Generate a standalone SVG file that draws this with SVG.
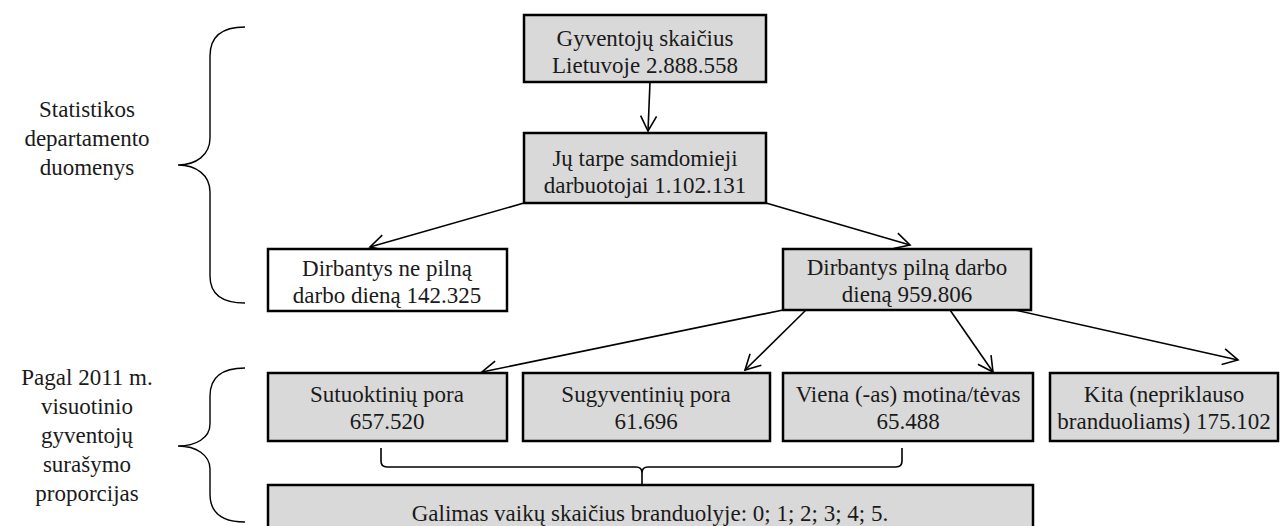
<svg xmlns="http://www.w3.org/2000/svg" width="1280" height="526" viewBox="0 0 1280 526">
<style>
.box{fill:#d9d9d9;stroke:#000;stroke-width:2.5}
.wbox{fill:#fff;stroke:#000;stroke-width:2.5}
.t{font-family:"Liberation Serif","Times New Roman",serif;font-size:23px;fill:#1a1a1a;text-anchor:middle}
.c{fill:none;stroke:#000;stroke-width:1.6}
.br{fill:none;stroke:#000;stroke-width:1.4}
</style>
<defs>
<marker id="arr" viewBox="-17 -10 19 20" refX="0" refY="0" markerWidth="19" markerHeight="20" markerUnits="userSpaceOnUse" orient="auto">
<path d="M-15,-8 L0,0 L-15,8" fill="none" stroke="#000" stroke-width="1.6"/>
</marker>
</defs>
<rect width="1280" height="526" fill="#fff"/>

<g id="connectors">
<path class="c" d="M650,82 L648,131" marker-end="url(#arr)"/>
<path class="c" d="M524,203 L370,247" marker-end="url(#arr)"/>
<path class="c" d="M766,203 L910,245" marker-end="url(#arr)"/>
<path class="c" d="M783,310 L482,372" marker-end="url(#arr)"/>
<path class="c" d="M806,310 L745,370" marker-end="url(#arr)"/>
<path class="c" d="M950,310 L993,372" marker-end="url(#arr)"/>
<path class="c" d="M1015,310 L1238,360" marker-end="url(#arr)"/>
<path class="c" d="M381,448 V461 Q381,467 387,467 H636 Q642,467 642,473 V485 M642,473 Q642,467 648,467 H896 Q902,467 902,461 V448"/>
</g>

<g id="brace-top">
<path class="br" d="M245,27 C222,27 210,36 210,56 V138 C210,155 196,165 178,165 C196,165 210,175 210,192 V276 C210,294 222,303 245,303"/>
<text class="t" x="87" y="117">Statistikos</text>
<text class="t" x="87" y="146">departamento</text>
<text class="t" x="87" y="175">duomenys</text>
</g>

<g id="brace-bottom">
<path class="br" d="M245,368 C222,368 210,377 210,396 V424 C210,438 196,446 178,446 C196,446 210,455 210,469 V494 C210,513 222,522 245,522"/>
<text class="t" x="87" y="385">Pagal 2011 m.</text>
<text class="t" x="87" y="414">visuotinio</text>
<text class="t" x="87" y="443">gyventojų</text>
<text class="t" x="87" y="472">surašymo</text>
<text class="t" x="87" y="501">proporcijas</text>
</g>

<g id="n-gyventoju">
<rect class="box" x="524" y="15" width="242" height="67"/>
<text class="t" x="645" y="46">Gyventojų skaičius</text>
<text class="t" x="645" y="73">Lietuvoje 2.888.558</text>
</g>

<g id="n-samdomieji">
<rect class="box" x="524" y="133" width="242" height="70"/>
<text class="t" x="645" y="166">Jų tarpe samdomieji</text>
<text class="t" x="645" y="193">darbuotojai 1.102.131</text>
</g>

<g id="n-ne-pilna">
<rect class="wbox" x="268" y="249" width="239" height="62"/>
<text class="t" x="387" y="276">Dirbantys ne pilną</text>
<text class="t" x="387" y="303">darbo dieną 142.325</text>
</g>

<g id="n-pilna">
<rect class="box" x="783" y="249" width="248" height="61"/>
<text class="t" x="907" y="275">Dirbantys pilną darbo</text>
<text class="t" x="907" y="302">dieną 959.806</text>
</g>

<g id="n-sutuoktiniu">
<rect class="box" x="268" y="373" width="239" height="68"/>
<text class="t" x="387" y="402">Sutuoktinių pora</text>
<text class="t" x="387" y="429">657.520</text>
</g>

<g id="n-sugyventiniu">
<rect class="box" x="523" y="373" width="247" height="68"/>
<text class="t" x="646" y="402">Sugyventinių pora</text>
<text class="t" x="646" y="429">61.696</text>
</g>

<g id="n-viena">
<rect class="box" x="783" y="373" width="250" height="68"/>
<text class="t" x="908" y="402">Viena (-as) motina/tėvas</text>
<text class="t" x="908" y="429">65.488</text>
</g>

<g id="n-kita">
<rect class="box" x="1050" y="373" width="228" height="68"/>
<text class="t" x="1164" y="402">Kita (nepriklauso</text>
<text class="t" x="1164" y="429">branduoliams) 175.102</text>
</g>

<g id="n-galimas">
<rect class="box" x="268" y="485" width="765" height="50"/>
<text class="t" x="650" y="521">Galimas vaikų skaičius branduolyje: 0; 1; 2; 3; 4; 5.</text>
</g>
</svg>
